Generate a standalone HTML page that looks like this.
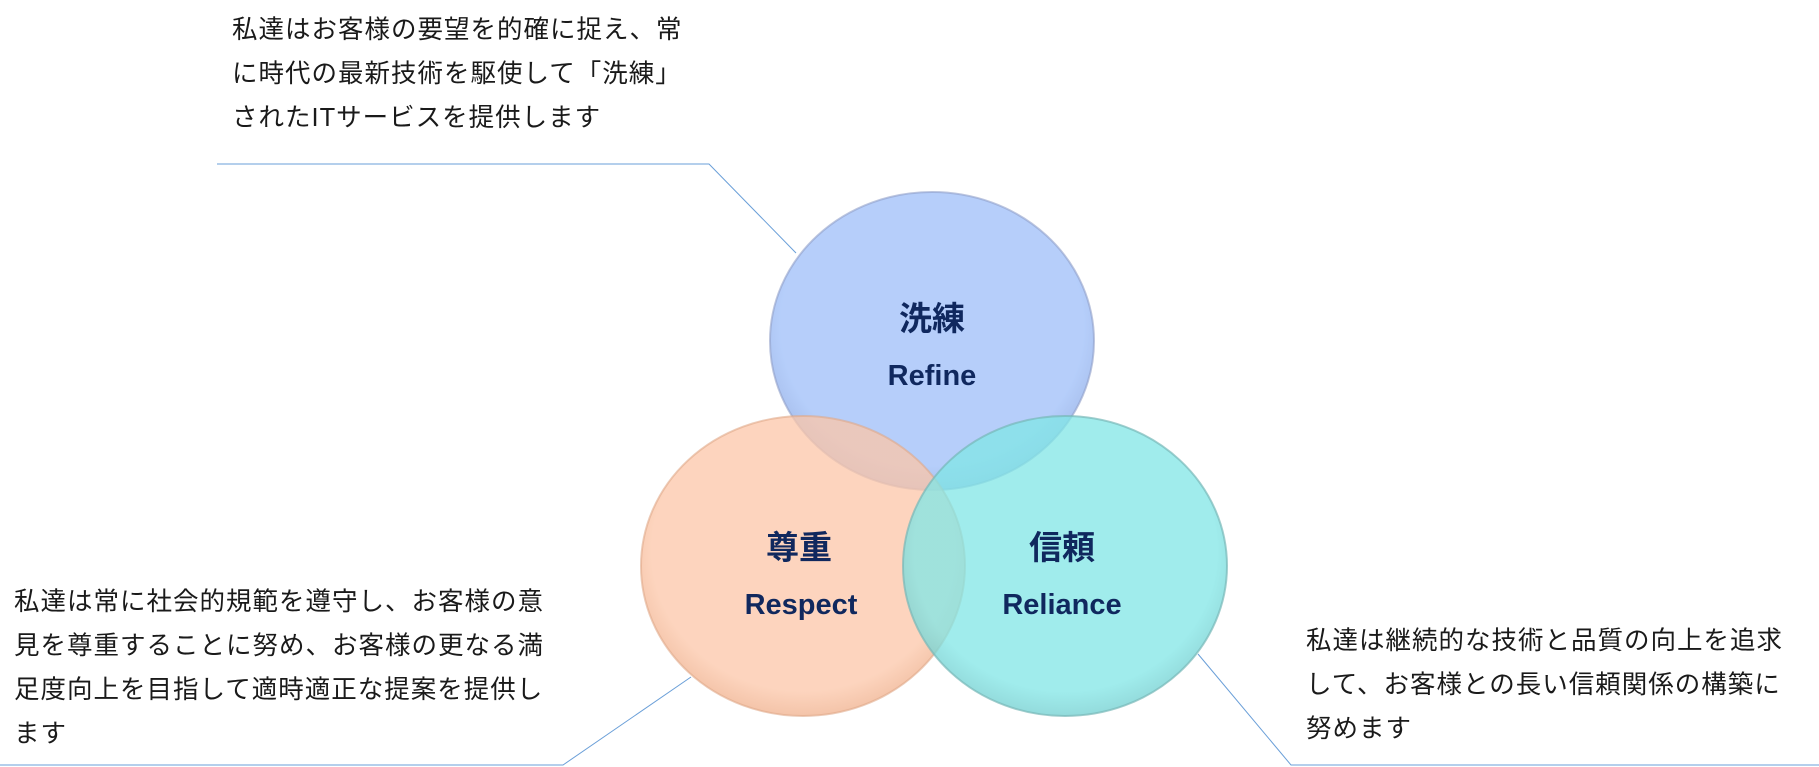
<!DOCTYPE html>
<html><head><meta charset="utf-8"><style>
html,body{margin:0;padding:0;background:#fff;}
body{width:1819px;height:767px;position:relative;overflow:hidden;font-family:"Liberation Sans","Noto Sans CJK JP",sans-serif;}
.t{position:absolute;font-size:25.5px;line-height:44px;color:#1a1a1a;letter-spacing:1px;white-space:nowrap;}
</style></head><body>
<svg width="1819" height="767" style="position:absolute;left:0;top:0">
<defs>
<radialGradient id="gb" cx="50%" cy="45%" r="55%"><stop offset="85%" stop-color="#9dbef9"/><stop offset="100%" stop-color="#8aa9e6"/></radialGradient>
<radialGradient id="go" cx="50%" cy="45%" r="55%"><stop offset="85%" stop-color="#fcc6a8"/><stop offset="100%" stop-color="#f0b08c"/></radialGradient>
<radialGradient id="gc" cx="50%" cy="45%" r="55%"><stop offset="85%" stop-color="#80e6e6"/><stop offset="100%" stop-color="#6fcfd0"/></radialGradient>
</defs>
<g stroke="#6a9fd8" stroke-width="1" fill="none">
<polyline points="217,164 709,164 796,253"/>
<polyline points="0,765 563,765 691,677"/>
<polyline points="1198,654 1291,765 1819,765"/>
</g>
<ellipse cx="932" cy="341" rx="162" ry="149" fill="url(#gb)" fill-opacity="0.75" stroke="#8f9fc8" stroke-opacity="0.6" stroke-width="2"/>
<ellipse cx="803" cy="566" rx="162" ry="150" fill="url(#go)" fill-opacity="0.75" stroke="#e0a888" stroke-opacity="0.6" stroke-width="2"/>
<ellipse cx="1065" cy="566" rx="162" ry="150" fill="url(#gc)" fill-opacity="0.75" stroke="#78b8b8" stroke-opacity="0.7" stroke-width="2"/>
<g fill="#10285e" font-weight="bold" text-anchor="middle" font-family="Liberation Sans,Noto Sans CJK JP,sans-serif">
<text x="932" y="330" font-size="33">洗練</text>
<text x="932" y="385" font-size="29">Refine</text>
<text x="799" y="559" font-size="33">尊重</text>
<text x="801" y="614" font-size="29">Respect</text>
<text x="1062" y="559" font-size="33">信頼</text>
<text x="1062" y="614" font-size="29">Reliance</text>
</g>
</svg>
<div class="t" style="left:232px;top:8px">私達はお客様の要望を的確に捉え、常<br>に時代の最新技術を駆使して「洗練」<br>されたITサービスを提供します</div>
<div class="t" style="left:14px;top:580px">私達は常に社会的規範を遵守し、お客様の意<br>見を尊重することに努め、お客様の更なる満<br>足度向上を目指して適時適正な提案を提供し<br>ます</div>
<div class="t" style="left:1306px;top:619px">私達は継続的な技術と品質の向上を追求<br>して、お客様との長い信頼関係の構築に<br>努めます</div>
</body></html>
